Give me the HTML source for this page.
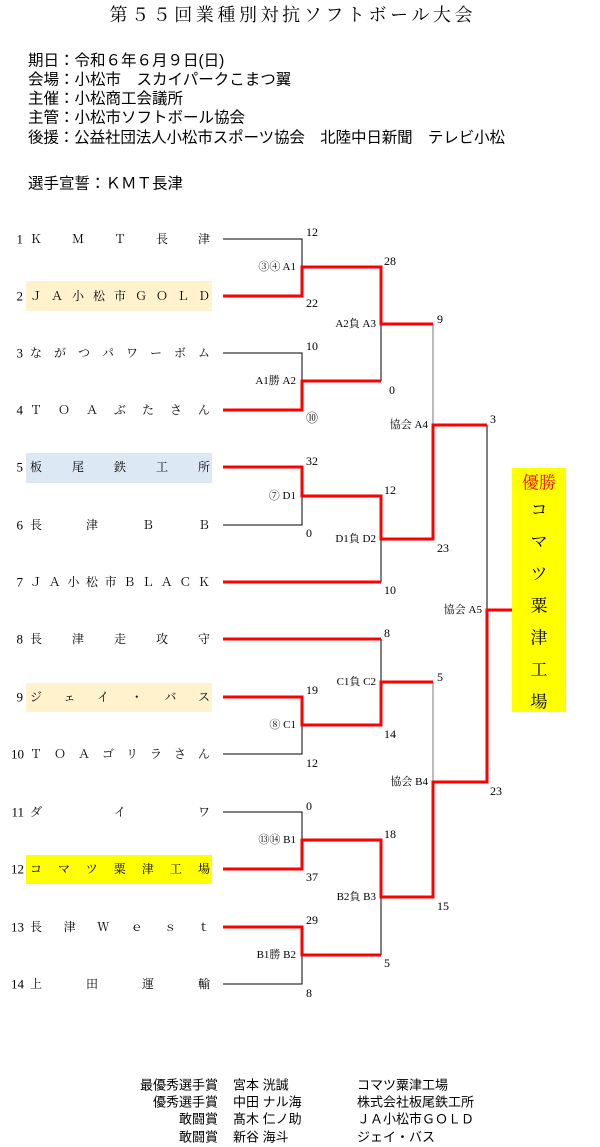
<!DOCTYPE html>
<html><head><meta charset="utf-8"><style>
html,body{margin:0;padding:0;background:#fff;}
svg{display:block;}
text{font-family:"Liberation Serif","Noto Serif CJK SC","Noto Sans CJK JP",serif;fill:#000;}
.s{font-family:"Liberation Sans","Noto Sans CJK JP",sans-serif;}
</style></head><body>
<svg width="600" height="1147" viewBox="0 0 600 1147" xmlns="http://www.w3.org/2000/svg">
<g dominant-baseline="central">
<text x="291" y="15" font-size="18" text-anchor="middle" textLength="363" lengthAdjust="spacing">第５５回業種別対抗ソフトボール大会</text>
<g font-size="15.5">
<text class="s" x="28" y="61">期日：令和６年６月９日(日)</text>
<text class="s" x="28" y="80">会場：小松市　スカイパークこまつ翼</text>
<text class="s" x="28" y="99">主催：小松商工会議所</text>
<text class="s" x="28" y="118">主管：小松市ソフトボール協会</text>
<text class="s" x="28" y="138" textLength="477" lengthAdjust="spacing">後援：公益社団法人小松市スポーツ協会　北陸中日新聞　テレビ小松</text>
<text class="s" x="28" y="184">選手宣誓：ＫＭＴ長津</text>
</g>
<rect x="26" y="281" width="186" height="30" fill="#fff2cc"/>
<rect x="26" y="453" width="186" height="30" fill="#dde8f5"/>
<rect x="26" y="683" width="186" height="29" fill="#fff2cc"/>
<rect x="26" y="855" width="186" height="29" fill="#ffff00"/>
<rect x="512" y="468" width="54" height="244" fill="#ffff00"/>
<g font-size="12">
<g font-size="13">
<text x="23" y="239" text-anchor="end">1</text>
<text x="23" y="296" text-anchor="end">2</text>
<text x="23" y="353" text-anchor="end">3</text>
<text x="23" y="410" text-anchor="end">4</text>
<text x="23" y="467" text-anchor="end">5</text>
<text x="23" y="525" text-anchor="end">6</text>
<text x="23" y="582" text-anchor="end">7</text>
<text x="23" y="639" text-anchor="end">8</text>
<text x="23" y="697" text-anchor="end">9</text>
<text x="24" y="754" text-anchor="end">10</text>
<text x="24" y="812" text-anchor="end">11</text>
<text x="24" y="869" text-anchor="end">12</text>
<text x="24" y="927" text-anchor="end">13</text>
<text x="24" y="984" text-anchor="end">14</text>
</g>
<text x="30" y="239" textLength="180" lengthAdjust="spacing">ＫＭＴ長津</text>
<text x="30" y="296" textLength="180" lengthAdjust="spacing">ＪＡ小松市ＧＯＬＤ</text>
<text x="30" y="353" textLength="180" lengthAdjust="spacing">ながつパワーボム</text>
<text x="30" y="410" textLength="180" lengthAdjust="spacing">ＴＯＡぶたさん</text>
<text x="30" y="467" textLength="180" lengthAdjust="spacing">板尾鉄工所</text>
<text x="30" y="525" textLength="180" lengthAdjust="spacing">長津ＢＢ</text>
<text x="30" y="582" textLength="180" lengthAdjust="spacing">ＪＡ小松市ＢＬＡＣＫ</text>
<text x="30" y="639" textLength="180" lengthAdjust="spacing">長津走攻守</text>
<text x="30" y="697" textLength="180" lengthAdjust="spacing">ジェイ・バス</text>
<text x="30" y="754" textLength="180" lengthAdjust="spacing">ＴＯＡゴリラさん</text>
<text x="30" y="812" textLength="180" lengthAdjust="spacing">ダイワ</text>
<text x="30" y="869" textLength="180" lengthAdjust="spacing">コマツ粟津工場</text>
<text x="30" y="927" textLength="180" lengthAdjust="spacing">長津Ｗｅｓｔ</text>
<text x="30" y="984" textLength="180" lengthAdjust="spacing">上田運輸</text>
</g>
<g stroke="#000" stroke-width="1" fill="none">
<path d="M223 239H302V267"/>
<path d="M223 353H302V381"/>
<path d="M381 324V381"/>
<path d="M433 324V425" stroke="#777"/>
<path d="M302 496V525H223"/>
<path d="M381 539V582"/>
<path d="M487 425V610"/>
<path d="M381 639V682"/>
<path d="M302 725V754H223"/>
<path d="M433 682V782" stroke="#777"/>
<path d="M223 812H302V840"/>
<path d="M381 897V955"/>
<path d="M302 955V984H223"/>
</g>
<g stroke="#ff0000" stroke-width="3" fill="none">
<path d="M223 296H302V267H381V324H433"/>
<path d="M223 410H302V381H381"/>
<path d="M223 467H302V496H381V539H433V425H487"/>
<path d="M223 582H381"/>
<path d="M223 639H381"/>
<path d="M223 697H302V725H381V682H433"/>
<path d="M223 869H302V840H381V897H433V782H487V610H512"/>
<path d="M223 927H302V955H381"/>
</g>
<g font-size="12">
<text x="306" y="232">12</text><text x="306" y="303">22</text>
<text x="384" y="261">28</text><text x="389" y="390">0</text>
<text x="306" y="346">10</text><text x="306" y="418">⑩</text>
<text x="437" y="319">9</text><text x="437" y="548">23</text>
<text x="306" y="461">32</text><text x="306" y="533">0</text>
<text x="384" y="490">12</text><text x="384" y="590">10</text>
<text x="490" y="419">3</text><text x="490" y="791">23</text>
<text x="384" y="633">8</text><text x="384" y="734">14</text>
<text x="437" y="677">5</text><text x="437" y="906">15</text>
<text x="306" y="690">19</text><text x="306" y="763">12</text>
<text x="306" y="806">0</text><text x="306" y="877">37</text>
<text x="384" y="834">18</text><text x="384" y="963">5</text>
<text x="306" y="920">29</text><text x="306" y="993">8</text>
</g>
<g font-size="11" text-anchor="end">
<text x="296" y="267">③④ A1</text>
<text x="296" y="381">A1勝 A2</text>
<text x="376" y="324">A2負 A3</text>
<text x="428" y="425">協会 A4</text>
<text x="296" y="496">⑦ D1</text>
<text x="376" y="539">D1負 D2</text>
<text x="482" y="610">協会 A5</text>
<text x="376" y="682">C1負 C2</text>
<text x="296" y="725">⑧ C1</text>
<text x="428" y="782">協会 B4</text>
<text x="296" y="840">⑬⑭ B1</text>
<text x="376" y="897">B2負 B3</text>
<text x="296" y="955">B1勝 B2</text>
</g>
<g font-size="17" text-anchor="middle">
<text x="539" y="483" style="fill:#ff0000">優勝</text>
<text x="539" y="510">コ</text>
<text x="539" y="542">マ</text>
<text x="539" y="574">ツ</text>
<text x="539" y="606">粟</text>
<text x="539" y="638">津</text>
<text x="539" y="670">工</text>
<text x="539" y="702">場</text>
</g>
<g font-size="13">
<text class="s" x="218" y="1085" text-anchor="end">最優秀選手賞</text>
<text class="s" x="218" y="1102" text-anchor="end">優秀選手賞</text>
<text class="s" x="218" y="1119" text-anchor="end">敢闘賞</text>
<text class="s" x="218" y="1137" text-anchor="end">敢闘賞</text>
<text class="s" x="233" y="1085">宮本 洸誠</text>
<text class="s" x="233" y="1102">中田 ナル海</text>
<text class="s" x="233" y="1119">髙木 仁ノ助</text>
<text class="s" x="233" y="1137">新谷 海斗</text>
<text class="s" x="357" y="1085">コマツ粟津工場</text>
<text class="s" x="357" y="1102">株式会社板尾鉄工所</text>
<text class="s" x="357" y="1119">ＪＡ小松市ＧＯＬＤ</text>
<text class="s" x="357" y="1137">ジェイ・バス</text>
</g>
</g>
</svg>
</body></html>
